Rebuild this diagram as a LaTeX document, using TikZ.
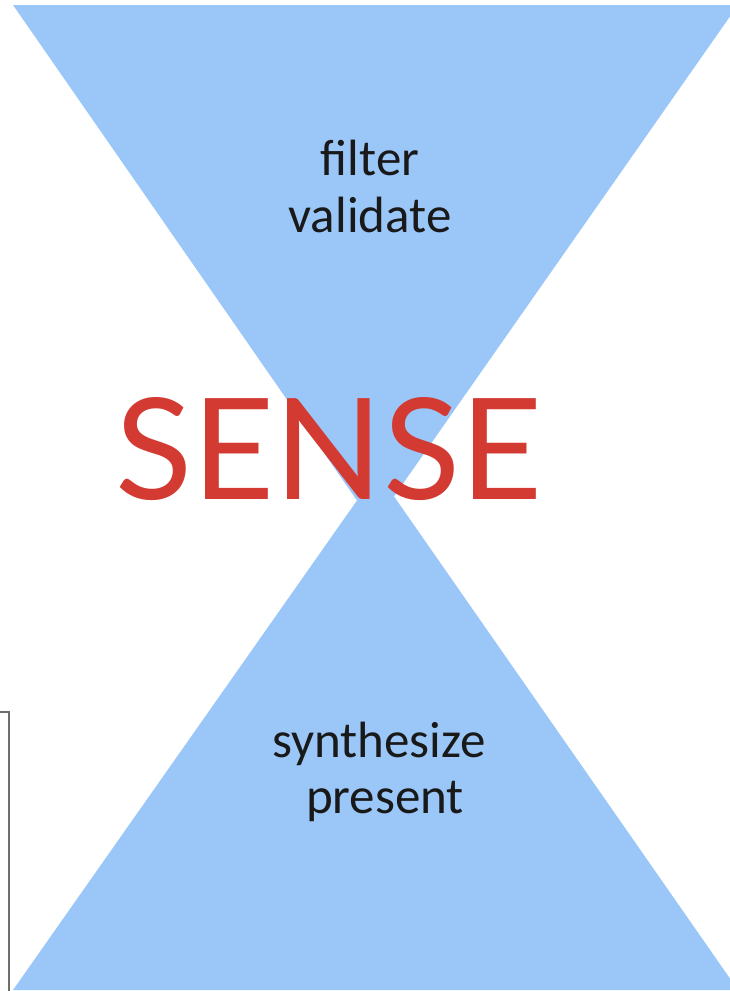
\documentclass[tikz,border=0pt]{standalone}
\usepackage{fontspec}
\setmainfont{Carlito}
\newfontfamily\sensefont{Lato}
\definecolor{hgblue}{RGB}{155,199,248}
\definecolor{sensered}{RGB}{210,58,50}
\definecolor{boxgray}{RGB}{110,110,110}
\begin{document}
\begin{tikzpicture}[x=1pt,y=-1pt,
  cone/.style={fill=hgblue,draw=none},
  wordtext/.style={inner sep=0pt,anchor=base,font=\fontsize{51}{57}\selectfont,text=black!90},
  boxline/.style={draw=boxgray,line width=1.8pt}]
\useasboundingbox (0,0) rectangle (730,991);
\begin{scope}
\clip (0,0) rectangle (730,991);
\path[cone] (13,5) -- (738,5) -- (374,525) -- cycle;
\path[cone] (13,990) -- (738,990) -- (377,472) -- cycle;
\end{scope}
\coordinate (boxtop) at (0,712);
\coordinate (boxcorner) at (9,712);
\coordinate (boxbottom) at (9,991);
\draw[boxline] (boxtop) -- (boxcorner) -- (boxbottom);
\node[wordtext] (filter) at (370,175) {filter};
\node[wordtext] (validate) at (370,232) {validate};
\node[wordtext] (synth) at (379,757) {synthesize};
\node[wordtext] (present) at (385,813) {present};
\node[inner sep=0pt,anchor=base west,text=sensered] (sense) at (115,499)
  {\resizebox{427pt}{102pt}{\sensefont\fontsize{144}{144}\selectfont SENSE}};
\end{tikzpicture}
\end{document}
